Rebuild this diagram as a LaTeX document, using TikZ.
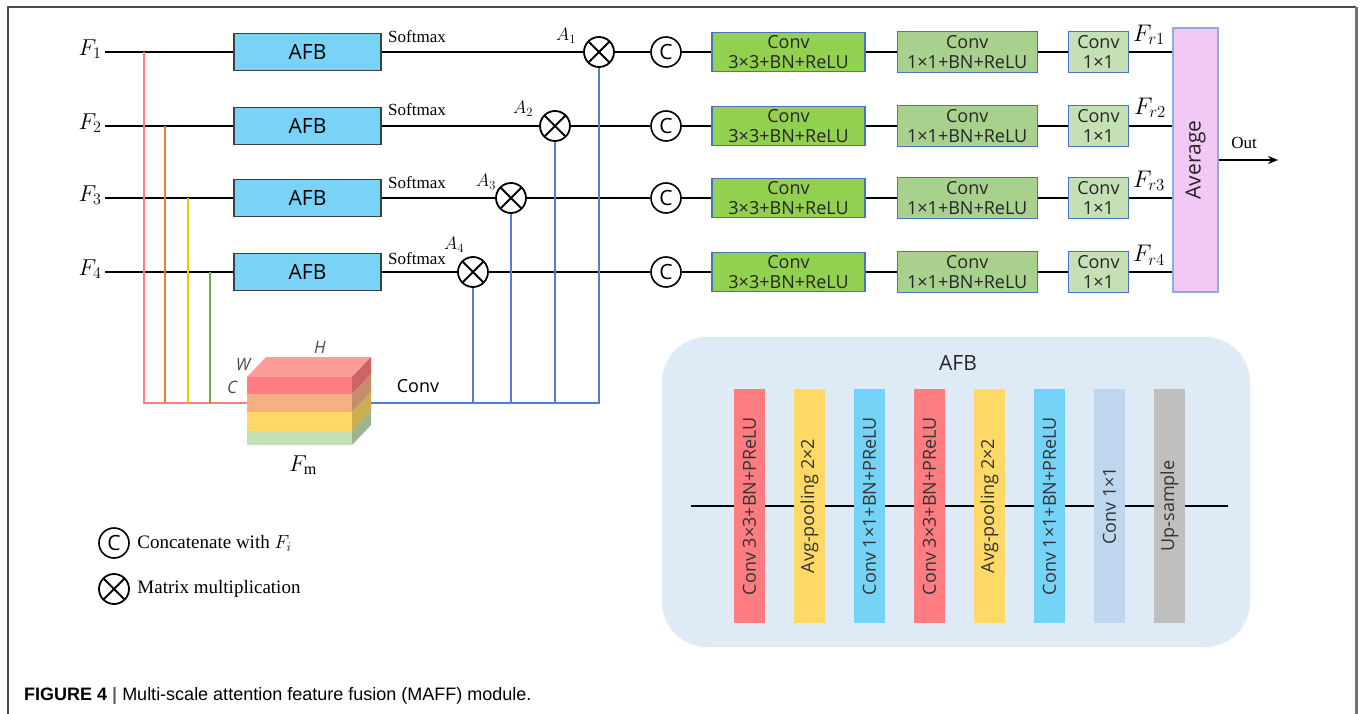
\RequirePackage{fix-cm}
\documentclass[tikz,border=0pt]{standalone}
\usepackage{fontspec}
\setmainfont{Liberation Serif}
\setsansfont{Open Sans}
\newfontfamily\capfont{Liberation Sans}
\usetikzlibrary{arrows.meta, positioning, calc}
\definecolor{afbblue}{HTML}{78D3F7}
\definecolor{boxedge}{HTML}{4A72C0}
\definecolor{convgreen}{HTML}{92D050}
\definecolor{convmidgreen}{HTML}{A9D18E}
\definecolor{convlightgreen}{HTML}{C5E0B4}
\definecolor{avgpink}{HTML}{F2C8F4}
\definecolor{tapred}{HTML}{FF7C80}
\definecolor{taporange}{HTML}{ED7D31}
\definecolor{tapyellow}{HTML}{FFC000}
\definecolor{tapgreen}{HTML}{70AD47}
\definecolor{convblue}{HTML}{4F7FD6}
\definecolor{detailbg}{HTML}{DEEAF6}
\definecolor{barred}{HTML}{FF7C80}
\definecolor{baryellow}{HTML}{FFD966}
\definecolor{barblue}{HTML}{75D3F7}
\definecolor{barpale}{HTML}{BDD7EE}
\definecolor{bargray}{HTML}{BFBFBF}
\definecolor{cubetop}{HTML}{FF9B9B}
\definecolor{layorange}{HTML}{F4B183}
\definecolor{layyellow}{HTML}{FFD966}
\definecolor{laygreen}{HTML}{C5E0B4}
\newcommand{\pxsize}[1]{\fontsize{#1}{#1}\selectfont}

\begin{document}
\begin{tikzpicture}[
    x=1pt, y=-1pt,
    wire/.style={line width=1.8pt, black},
    tapline/.style={line width=1.8pt},
    convline/.style={line width=1.8pt, convblue},
    afb/.style={
        rectangle, draw=black!75, line width=1.2pt, fill=afbblue,
        minimum width=147pt, minimum height=37pt, font=\sffamily\pxsize{21}
    },
    convbig/.style={
        rectangle, draw=boxedge, line width=1.2pt, fill=convgreen, inner sep=0pt,
        minimum width=153pt, minimum height=39pt, align=center,
        font=\sffamily\fontsize{18}{20}\selectfont, text=black!85
    },
    convmid/.style={convbig, fill=convmidgreen, minimum width=140pt, minimum height=41pt},
    convsmall/.style={convbig, fill=convlightgreen, minimum width=60pt, minimum height=41pt},
    mul/.style={
        circle, draw, line width=1.8pt, fill=white, minimum size=30pt, inner sep=0pt,
        path picture={\draw[line width=1.8pt]
            (path picture bounding box.north west) -- (path picture bounding box.south east)
            (path picture bounding box.north east) -- (path picture bounding box.south west);}
    },
    cat/.style={circle, draw, line width=1.6pt, fill=white, minimum size=30pt, inner sep=0pt,
        font=\sffamily\pxsize{21}},
    flbl/.style={font=\pxsize{23}},
    frlbl/.style={font=\pxsize{24}},
    albl/.style={font=\pxsize{18}},
    smx/.style={font=\pxsize{17}, inner sep=0pt},
    bar/.style={rectangle, minimum width=31pt, minimum height=234pt, inner sep=0pt,
        font=\sffamily\pxsize{18}, text=black!80},
    dimlbl/.style={font=\sffamily\itshape\pxsize{17}, text=black!70},
    legtxt/.style={font=\pxsize{19}},
    arr/.style={-{Stealth[length=10pt, width=8pt]}, line width=1.8pt},
]
\useasboundingbox (0,0) rectangle (1360,714);

% Frame
\draw[black!70, line width=1.2pt] (8,714) -- (8,7) -- (1356,7);
\draw[black!55, line width=3pt] (1356,7) -- (1356,714);

% Inputs and AFB blocks
\node[flbl] (f1) at (90,49) {$F_1$};
\node[flbl] (f2) at (90,123) {$F_2$};
\node[flbl] (f3) at (90,195) {$F_3$};
\node[flbl] (f4) at (90,269) {$F_4$};
\node[afb] (afb1) at (307.5,52) {AFB};
\node[afb] (afb2) at (307.5,126) {AFB};
\node[afb] (afb3) at (307.5,198) {AFB};
\node[afb] (afb4) at (307.5,272) {AFB};
\node[smx, anchor=base west] (smx1) at (388,43) {Softmax};
\node[smx, anchor=base west] (smx2) at (388,116) {Softmax};
\node[smx, anchor=base west] (smx3) at (388,189) {Softmax};
\node[smx, anchor=base west] (smx4) at (388,264) {Softmax};

% Multiplications and concatenations
\node[mul] (mul1) at (599,52) {};
\node[mul] (mul2) at (555,126) {};
\node[mul] (mul3) at (511,198) {};
\node[mul] (mul4) at (473,272) {};
\node[albl] (a1) at (566,36) {$A_1$};
\node[albl] (a2) at (523,109) {$A_2$};
\node[albl] (a3) at (486,182) {$A_3$};
\node[albl] (a4) at (454,245) {$A_4$};
\node[cat] (cat1) at (666,52) {C};
\node[cat] (cat2) at (666,126) {C};
\node[cat] (cat3) at (666,198) {C};
\node[cat] (cat4) at (666,272) {C};

% Conv heads
\node[convbig] (cva1) at (788.5,52) {Conv\\3×3+BN+ReLU};
\node[convbig] (cva2) at (788.5,126) {Conv\\3×3+BN+ReLU};
\node[convbig] (cva3) at (788.5,198) {Conv\\3×3+BN+ReLU};
\node[convbig] (cva4) at (788.5,272) {Conv\\3×3+BN+ReLU};
\node[convmid, right=31pt of cva1] (cvb1) {Conv\\1×1+BN+ReLU};
\node[convmid, right=31pt of cva2] (cvb2) {Conv\\1×1+BN+ReLU};
\node[convmid, right=31pt of cva3] (cvb3) {Conv\\1×1+BN+ReLU};
\node[convmid, right=31pt of cva4] (cvb4) {Conv\\1×1+BN+ReLU};
\node[convsmall, right=30pt of cvb1] (cvc1) {Conv\\1×1};
\node[convsmall, right=30pt of cvb2] (cvc2) {Conv\\1×1};
\node[convsmall, right=30pt of cvb3] (cvc3) {Conv\\1×1};
\node[convsmall, right=30pt of cvb4] (cvc4) {Conv\\1×1};
\node[frlbl] (fr1) at (1149,35) {$F_{r1}$};
\node[frlbl] (fr2) at (1150,108) {$F_{r2}$};
\node[frlbl] (fr3) at (1149,181) {$F_{r3}$};
\node[frlbl] (fr4) at (1149,255) {$F_{r4}$};

% Average and output
\node[rectangle, draw=boxedge!60, line width=1.2pt, fill=avgpink, minimum width=45pt,
      minimum height=264pt, inner sep=0pt, font=\sffamily\pxsize{21}, text=black!85]
      (avg) at (1195.5,160) {\rotatebox{90}{Average}};
\coordinate (outend) at (1278,160);
\draw[arr] (avg.east) -- (outend);
\node[smx] (outlbl) at (1244,143) {Out};

% Row connections
\draw[wire] (f1.east |- afb1.west) -- (afb1.west);
\draw[wire] (f2.east |- afb2.west) -- (afb2.west);
\draw[wire] (f3.east |- afb3.west) -- (afb3.west);
\draw[wire] (f4.east |- afb4.west) -- (afb4.west);
\draw[wire] (afb1) -- (mul1);
\draw[wire] (afb2) -- (mul2);
\draw[wire] (afb3) -- (mul3);
\draw[wire] (afb4) -- (mul4);
\draw[wire] (mul1) -- (cat1);
\draw[wire] (mul2) -- (cat2);
\draw[wire] (mul3) -- (cat3);
\draw[wire] (mul4) -- (cat4);
\draw[wire] (cat1) -- (cva1);
\draw[wire] (cat2) -- (cva2);
\draw[wire] (cat3) -- (cva3);
\draw[wire] (cat4) -- (cva4);
\draw[wire] (cva1) -- (cvb1);
\draw[wire] (cva2) -- (cvb2);
\draw[wire] (cva3) -- (cvb3);
\draw[wire] (cva4) -- (cvb4);
\draw[wire] (cvb1) -- (cvc1);
\draw[wire] (cvb2) -- (cvc2);
\draw[wire] (cvb3) -- (cvc3);
\draw[wire] (cvb4) -- (cvc4);
\draw[wire] (cvc1) -- (cvc1 -| avg.west);
\draw[wire] (cvc2) -- (cvc2 -| avg.west);
\draw[wire] (cvc3) -- (cvc3 -| avg.west);
\draw[wire] (cvc4) -- (cvc4 -| avg.west);

% Taps into the stacked feature map
\coordinate (tap1) at (144,52);
\coordinate (tap2) at (165,126);
\coordinate (tap3) at (188,198);
\coordinate (tap4) at (210,272);
\coordinate (cubein) at (247,403);
\coordinate (cubeout) at (371,403);
\draw[tapline, tapred] (tap1) |- (cubein);
\draw[tapline, taporange] (tap2) -- (tap2 |- cubein);
\draw[tapline, tapyellow] (tap3) -- (tap3 |- cubein);
\draw[tapline, tapgreen] (tap4) -- (tap4 |- cubein);

% Conv branch back to the multiplications
\draw[convline] (cubeout) -| (mul1.south);
\draw[convline] (mul2.south) -- (mul2 |- cubeout);
\draw[convline] (mul3.south) -- (mul3 |- cubeout);
\draw[convline] (mul4.south) -- (mul4 |- cubeout);
\node[font=\sffamily\pxsize{18}] (convlbl) at (418,386) {Conv};

% Feature map cube F_m
\fill[cubetop] (247,377) -- (352,377) -- (371,357) -- (266,357) -- cycle;
\fill[tapred] (247,377) rectangle (352,394);
\fill[layorange] (247,394) rectangle (352,412);
\fill[layyellow] (247,412) rectangle (352,431);
\fill[laygreen] (247,431) rectangle (352,445);
\fill[tapred!80!black] (352,377) -- (371,357) -- (371,374) -- (352,394) -- cycle;
\fill[layorange!80!black] (352,394) -- (371,374) -- (371,392) -- (352,412) -- cycle;
\fill[layyellow!80!black] (352,412) -- (371,392) -- (371,411) -- (352,431) -- cycle;
\fill[laygreen!80!black] (352,431) -- (371,411) -- (371,425) -- (352,445) -- cycle;
\node[dimlbl] (lblw) at (243,364) {W};
\node[dimlbl] (lblh) at (320,347) {H};
\node[dimlbl] (lblc) at (232,387) {C};
\node[flbl] (fm) at (303,465) {$F_{\mathrm{m}}$};

% Legend
\node[cat] (legc) at (114,543) {C};
\node[legtxt, right=4pt of legc] (legctxt) {Concatenate with $F_i$};
\node[mul] (legm) at (114,589) {};
\node[legtxt, right=4pt of legm] (legmtxt) {Matrix multiplication};

% AFB detail
\node[rectangle, rounded corners=45pt, fill=detailbg, minimum width=588pt,
      minimum height=310pt] (afbbox) at (956,492) {};
\node[font=\sffamily\pxsize{21}, text=black!85] (afbtitle) at (958,363) {AFB};
\coordinate (din) at (691,506);
\coordinate (dout) at (1228,506);
\draw[wire] (din) -- (dout);
\node[bar, fill=barred] (b1) at (749.5,506) {\rotatebox{90}{Conv 3×3+BN+PReLU}};
\node[bar, fill=baryellow] (b2) at (809.5,506) {\rotatebox{90}{Avg-pooling 2×2}};
\node[bar, fill=barblue] (b3) at (869.5,506) {\rotatebox{90}{Conv 1×1+BN+PReLU}};
\node[bar, fill=barred] (b4) at (929.5,506) {\rotatebox{90}{Conv 3×3+BN+PReLU}};
\node[bar, fill=baryellow] (b5) at (989.5,506) {\rotatebox{90}{Avg-pooling 2×2}};
\node[bar, fill=barblue] (b6) at (1049.5,506) {\rotatebox{90}{Conv 1×1+BN+PReLU}};
\node[bar, fill=barpale] (b7) at (1109.5,506) {\rotatebox{90}{Conv 1×1}};
\node[bar, fill=bargray] (b8) at (1169.5,506) {\rotatebox{90}{Up-sample}};

% Caption
\node[anchor=base west, inner sep=0pt, font=\capfont\pxsize{18}] (caption) at (24,700)
    {\textbf{FIGURE 4} {\color{black!60}\textbf{|}} Multi-scale attention feature fusion (MAFF) module.};

\end{tikzpicture}
\end{document}
